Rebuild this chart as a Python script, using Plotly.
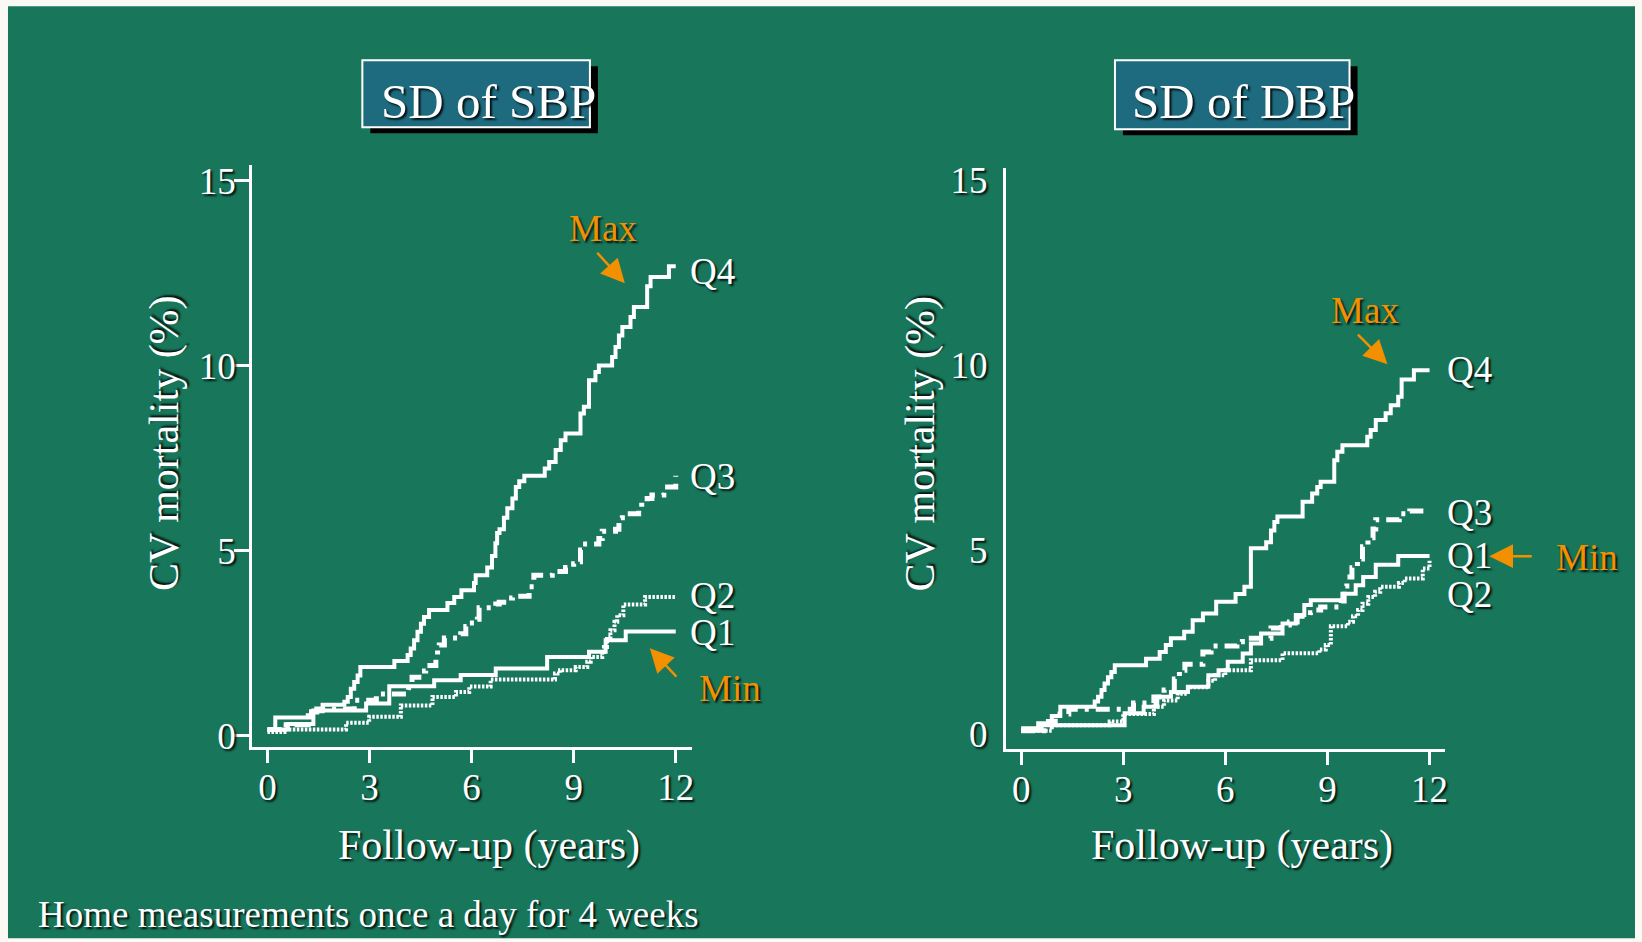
import plotly.graph_objects as go

# Cumulative cardiovascular mortality (%) by quartile of home BP variability.
# Each series: (follow-up year, cumulative mortality after the event).
sbp_q1 = [(0, 0.17), (0.6, 0.32), (1.35, 0.68), (2.9, 0.87), (3.58, 1.34), (4.9, 1.5),
          (5.68, 1.64), (6.71, 1.82), (8.22, 2.13), (9.45, 2.27), (9.94, 2.58),
          (10.53, 2.82), (12.0, 2.82)]
sbp_q2 = [(0, 0.1), (0.5, 0.17), (2.31, 0.35), (2.99, 0.51), (3.92, 0.82), (4.85, 1.05),
          (5.54, 1.18), (5.93, 1.33), (6.56, 1.52), (8.45, 1.68), (8.6, 1.77), (9.06, 1.86),
          (9.4, 2.0), (9.5, 2.13), (9.84, 2.27), (9.89, 2.4), (9.98, 2.67), (10.08, 2.85),
          (10.2, 3.08), (10.28, 3.26), (10.46, 3.55), (11.1, 3.75), (12.0, 3.75)]
sbp_q3 = [(0, 0.17), (0.55, 0.3), (1.2, 0.64), (1.45, 0.72), (2.55, 0.96), (3.2, 1.13),
          (4.15, 1.3), (4.25, 1.58), (4.45, 1.75), (4.65, 1.9), (4.95, 2.1), (5.0, 2.31),
          (5.05, 2.45), (5.2, 2.64), (5.68, 2.76), (5.83, 2.95), (5.93, 3.05), (6.17, 3.15),
          (6.22, 3.46), (6.71, 3.56), (6.81, 3.61), (7.05, 3.72), (7.2, 3.77), (7.69, 4.03),
          (7.83, 4.34), (8.37, 4.44), (8.76, 4.55), (9.0, 4.65), (9.15, 4.7), (9.2, 5.02),
          (9.25, 5.18), (9.74, 5.33), (9.84, 5.53), (10.23, 5.58), (10.33, 5.89), (10.43, 6.0),
          (10.91, 6.1), (11.0, 6.3), (11.16, 6.41), (11.3, 6.51), (11.65, 6.72), (12.0, 7.03)]
sbp_q4 = [(0, 0.17), (0.23, 0.49), (1.28, 0.66), (1.62, 0.84), (2.26, 0.92), (2.36, 1.05),
          (2.45, 1.27), (2.55, 1.45), (2.65, 1.63), (2.73, 1.86), (3.73, 2.02), (4.12, 2.18),
          (4.21, 2.36), (4.31, 2.58), (4.41, 2.81), (4.51, 3.03), (4.6, 3.21), (4.75, 3.4),
          (5.29, 3.59), (5.49, 3.75), (5.7, 3.93), (6.07, 4.13), (6.12, 4.34), (6.46, 4.55),
          (6.6, 4.86), (6.7, 5.2), (6.75, 5.48), (6.82, 5.58), (6.95, 5.89), (7.05, 6.15),
          (7.2, 6.41), (7.3, 6.72), (7.4, 6.88), (7.55, 7.03), (8.15, 7.22), (8.28, 7.4),
          (8.47, 7.72), (8.62, 7.99), (8.76, 8.17), (9.2, 8.71), (9.3, 8.89), (9.45, 9.61),
          (9.64, 9.83), (9.74, 10.01), (10.13, 10.24), (10.23, 10.51), (10.33, 10.82),
          (10.43, 11.05), (10.67, 11.32), (10.77, 11.59), (11.16, 12.15), (11.26, 12.4),
          (11.8, 12.69), (12.0, 12.69)]

dbp_q1 = [(0, 0.1), (0.6, 0.25), (3.04, 0.57), (3.6, 0.75), (4.0, 1.02), (4.4, 1.15),
          (4.9, 1.29), (5.5, 1.6), (5.8, 1.74), (6.07, 1.97), (6.51, 2.19), (6.75, 2.46),
          (7.05, 2.73), (7.68, 3.0), (8.07, 3.23), (8.32, 3.5), (8.51, 3.63), (9.44, 3.81),
          (9.83, 4.04), (10.05, 4.26), (10.42, 4.59), (11.08, 4.83), (12.0, 4.83)]
dbp_q2 = [(0, 0.1), (0.9, 0.25), (2.6, 0.35), (3.0, 0.55), (3.9, 0.75), (4.2, 0.92),
          (4.6, 1.1), (4.9, 1.28), (5.5, 1.45), (5.7, 1.6), (6.0, 1.74), (6.75, 2.01),
          (7.68, 2.2), (8.76, 2.3), (8.95, 2.42), (9.1, 2.93), (9.6, 3.05), (9.75, 3.2),
          (9.9, 3.37), (10.03, 3.54), (10.2, 3.72), (10.4, 3.86), (10.55, 4.0), (11.1, 4.1),
          (11.27, 4.22), (11.8, 4.49), (12.0, 4.7)]
dbp_q3 = [(0, 0.1), (0.8, 0.35), (1.0, 0.55), (1.4, 0.68), (3.3, 0.85), (3.9, 1.01),
          (4.2, 1.2), (4.5, 1.5), (4.65, 1.74), (4.81, 1.9), (5.34, 2.23), (5.58, 2.39),
          (6.34, 2.51), (6.5, 2.6), (7.34, 2.88), (7.65, 2.96), (7.88, 3.04), (8.11, 3.2),
          (8.5, 3.29), (8.65, 3.37), (8.8, 3.45), (9.41, 3.61), (9.49, 4.02), (9.57, 4.26),
          (9.72, 4.51), (9.88, 4.75), (10.03, 5.08), (10.19, 5.32), (10.34, 5.56),
          (10.42, 5.81), (11.11, 5.97), (11.42, 6.05), (12.0, 6.05)]
dbp_q4 = [(0, 0.17), (0.5, 0.3), (0.9, 0.5), (1.15, 0.75), (2.16, 0.89), (2.26, 1.02),
          (2.36, 1.2), (2.45, 1.38), (2.55, 1.55), (2.65, 1.69), (2.75, 1.87), (3.67, 2.05),
          (4.07, 2.23), (4.25, 2.42), (4.4, 2.6), (4.79, 2.78), (5.04, 3.09), (5.34, 3.27),
          (5.73, 3.59), (6.3, 3.8), (6.56, 4.0), (6.75, 5.04), (7.2, 5.2), (7.34, 5.52),
          (7.44, 5.75), (7.53, 5.9), (8.27, 6.3), (8.55, 6.52), (8.7, 6.7), (8.8, 6.84),
          (9.2, 7.42), (9.29, 7.65), (9.44, 7.83), (10.17, 8.06), (10.27, 8.24), (10.42, 8.51),
          (10.71, 8.69), (10.86, 8.91), (11.08, 9.14), (11.18, 9.61), (11.54, 9.86),
          (12.0, 9.86)]

panel_titles = ["SD of SBP", "SD of DBP"]
quartile_names = ["Q1", "Q2", "Q3", "Q4"]
x_ticks = [0, 3, 6, 9, 12]
y_ticks = [0, 5, 10, 15]
x_title = "Follow-up (years)"
y_title = "CV mortality (%)"
footnote = "Home measurements once a day for 4 weeks"

# label heights at the right end of each panel
sbp_label_y = {"Q4": 12.55, "Q3": 7.0, "Q2": 3.8, "Q1": 2.78}
dbp_label_y = {"Q4": 9.87, "Q3": 6.01, "Q1": 4.83, "Q2": 3.8}

# ---- styling ----
W, H = 1642, 942
FONT = "Liberation Serif"
GREEN = "#18765B"
BOX = "#1E6B7F"
ORANGE = "#F29000"
WHITE = "#FFFFFF"
SHADOW = "2px 2px 2px rgba(0,0,0,0.85)"

# vertical page placement: the figure sits slightly inset on the page
Y_OFF, Y_SCALE = 7.75, 0.982

line_styles = {
    "Q1": dict(color=WHITE, width=4, dash="solid"),
    "Q2": dict(color=WHITE, width=4, dash="2.5px,1.5px"),
    "Q3": dict(color=WHITE, width=5, dash="14px,7px,4px,7px"),
    "Q4": dict(color=WHITE, width=4, dash="solid"),
}


def px_x(p):
    return p / W


def px_y(p):
    return 1 - ((p - Y_OFF) / Y_SCALE) / H


fig = go.Figure()

panels = [
    ("x", "y", {"Q1": sbp_q1, "Q2": sbp_q2, "Q3": sbp_q3, "Q4": sbp_q4}, sbp_label_y),
    ("x2", "y2", {"Q1": dbp_q1, "Q2": dbp_q2, "Q3": dbp_q3, "Q4": dbp_q4}, dbp_label_y),
]

annotations = []
for xa, ya, series, label_y in panels:
    for q in quartile_names:
        pts = series[q]
        fig.add_trace(go.Scatter(
            x=[p[0] for p in pts], y=[p[1] for p in pts],
            mode="lines", line=dict(shape="hv", **line_styles[q]),
            xaxis=xa, yaxis=ya, hoverinfo="skip", showlegend=False,
        ))
    lx = 12.35 if xa == "x" else 12.44
    for q in quartile_names:
        annotations.append(dict(
            x=lx, y=label_y[q], xref=xa, yref=ya, text=q, showarrow=False,
            xanchor="left", yanchor="middle",
            font=dict(family=FONT, size=37, color=WHITE, shadow=SHADOW),
        ))

# Max / Min callouts, positioned in page pixels
callouts = [
    # text, text centre (px), arrow head (px), tail offset (px)
    ("Max", (604, 228), (626, 283), (-29, -32)),
    ("Min", (731, 688), (651, 648), (28, 30)),
    ("Max", (1367, 310), (1390, 364), (-31, -31)),
    ("Min", (1590, 557), (1492, 556), (44, 0)),
]
for txt, (tx, ty), (hx, hy), (dx, dy) in callouts:
    annotations.append(dict(
        x=px_x(tx), y=px_y(ty), xref="paper", yref="paper", text=txt, showarrow=False,
        xanchor="center", yanchor="middle",
        font=dict(family=FONT, size=37, color=ORANGE, shadow=SHADOW),
    ))
    annotations.append(dict(
        x=px_x(hx), y=px_y(hy), xref="paper", yref="paper", text="", showarrow=True,
        ax=dx, ay=dy, axref="pixel", ayref="pixel",
        arrowcolor=ORANGE, arrowwidth=2.5, arrowhead=2, arrowsize=1.9,
    ))

# panel title boxes (pixel geometry)
title_boxes = [(363, 60, 591, 127, 380), (1117, 60, 1352, 129, 1132)]
shapes = [
    dict(type="rect", xref="paper", yref="paper", layer="below",
         x0=px_x(8), x1=px_x(1638), y0=px_y(938), y1=px_y(6),
         fillcolor=GREEN, line=dict(width=0)),
]
for (bx0, by0, bx1, by1, tx), title in zip(title_boxes, panel_titles):
    shapes.append(dict(type="rect", xref="paper", yref="paper",
                       x0=px_x(bx0 + 8), x1=px_x(bx1 + 8), y0=px_y(by1 + 6), y1=px_y(by0 + 6),
                       fillcolor="#000000", line=dict(width=0)))
    shapes.append(dict(type="rect", xref="paper", yref="paper",
                       x0=px_x(bx0), x1=px_x(bx1), y0=px_y(by1), y1=px_y(by0),
                       fillcolor=BOX, line=dict(color=WHITE, width=2)))
    annotations.append(dict(
        x=px_x(tx), y=px_y(101), xref="paper", yref="paper", text=title,
        showarrow=False, xanchor="left", yanchor="middle",
        font=dict(family=FONT, size=49, color=WHITE, shadow=SHADOW),
    ))

# axis titles
title_font = dict(family=FONT, size=42, color=WHITE, shadow=SHADOW)
for cx in (490, 1244):
    annotations.append(dict(
        x=px_x(cx), y=px_y(845), xref="paper", yref="paper", text=x_title,
        showarrow=False, xanchor="center", yanchor="middle", font=title_font,
    ))
for cx in (165, 922):
    annotations.append(dict(
        x=px_x(cx), y=px_y(443), xref="paper", yref="paper", text=y_title,
        showarrow=False, xanchor="center", yanchor="middle", textangle=-90,
        font=title_font,
    ))

annotations.append(dict(
    x=px_x(36), y=px_y(914), xref="paper", yref="paper", text=footnote,
    showarrow=False, xanchor="left", yanchor="middle",
    font=dict(family=FONT, size=37, color=WHITE, shadow=SHADOW),
))

tick_font = dict(family=FONT, size=37, color=WHITE, shadow=SHADOW)

common_x = dict(
    showline=True, linecolor=WHITE, linewidth=3, showgrid=False, zeroline=False,
    tickvals=x_ticks, ticks="outside", ticklen=13, tickwidth=3, tickcolor=WHITE,
    ticklabelstandoff=-8, tickfont=tick_font, fixedrange=True,
)
common_y = dict(
    showline=True, linecolor=WHITE, linewidth=3, showgrid=False, zeroline=False,
    tickvals=y_ticks, tickfont=tick_font, fixedrange=True,
)

fig.update_layout(
    width=W, height=H,
    margin=dict(l=0, r=0, t=0, b=0),
    paper_bgcolor="#FBF9F3", plot_bgcolor="rgba(0,0,0,0)",
    font=dict(family=FONT, color=WHITE),
    showlegend=False,
    xaxis=dict(domain=[px_x(252.6), px_x(693)], range=[-0.45, 12.47],
               anchor="y", **common_x),
    yaxis=dict(domain=[px_y(747), px_y(165)], range=[-0.31, 15.42], anchor="x",
               ticks="outside", ticklen=15, tickwidth=3, tickcolor=WHITE,
               ticklabelstandoff=-9, **common_y),
    xaxis2=dict(domain=[px_x(1007.7), px_x(1447.5)], range=[-0.45, 12.45],
                anchor="y2", **common_x),
    yaxis2=dict(domain=[px_y(749.2), px_y(168.2)], range=[-0.406, 15.32], anchor="x2",
                ticks="", ticklabelstandoff=8, **common_y),
    shapes=shapes,
    annotations=annotations,
)

fig.write_html("out.html")
